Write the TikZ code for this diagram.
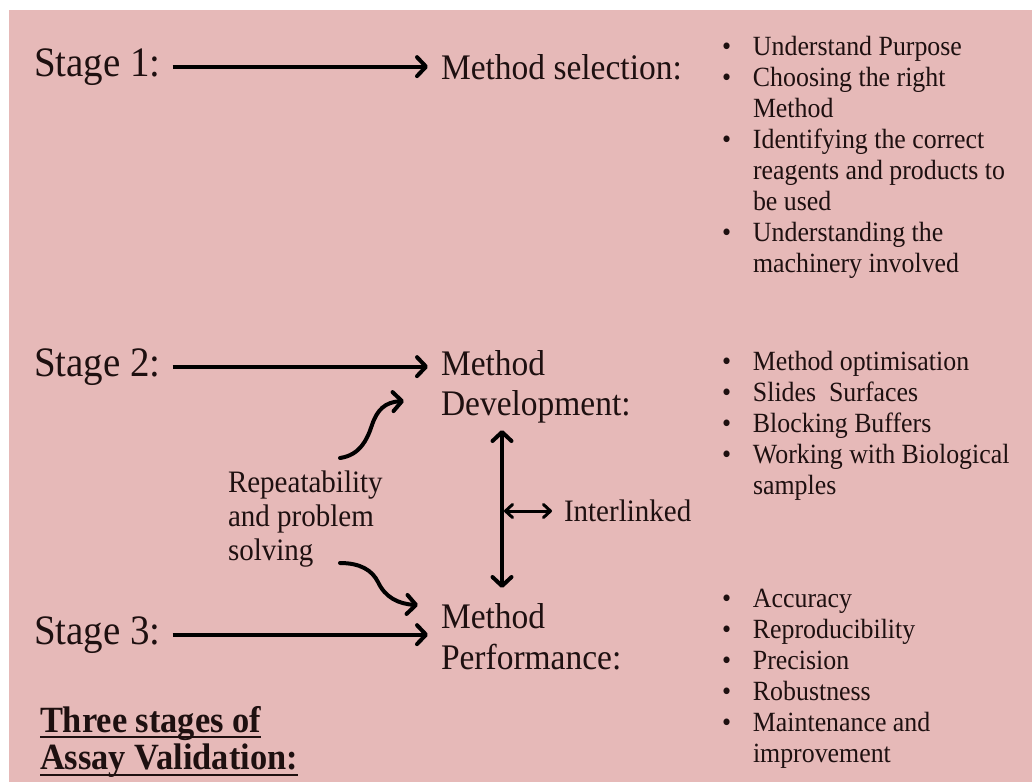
\documentclass[tikz,border=0pt]{standalone}
\usepackage{fontspec}
\setmainfont{Liberation Serif}[FakeStretch=0.93]
\usetikzlibrary{arrows.meta}
\definecolor{bg}{HTML}{E6B9B8}
\definecolor{ink}{HTML}{1E1010}
\newcommand\bul{\makebox[31pt][l]{\textbullet}}
\newcommand\nob{\hspace*{31pt}}
\begin{document}
\begin{tikzpicture}[x=1pt,y=-1pt,
  every node/.style={inner sep=0pt, outer sep=0pt, text=ink},
  stagelbl/.style={font=\fontsize{41.9}{46}\selectfont, anchor=base west},
  methlbl/.style={font=\fontsize{36}{40}\selectfont, anchor=base west},
  listbox/.style={font=\fontsize{27.8}{31}\selectfont, anchor=base west},
  midtxt/.style={font=\fontsize{31.2}{34}\selectfont, anchor=base west},
  titletxt/.style={font=\bfseries\fontsize{37}{40}\selectfont, anchor=base west},
  bigarr/.style={draw=black, line width=4.2pt, -{Straight Barb[length=9pt,width=19pt,line width=4pt,round]}},
  curvarr/.style={draw=black, line width=4pt, line cap=round, -{Straight Barb[length=9pt,width=19pt,line width=4pt,round]}},
  dblarr/.style={draw=black, line width=4pt, {Straight Barb[length=9pt,width=19pt,line width=4pt,round]}-{Straight Barb[length=9pt,width=19pt,line width=4pt,round]}},
  smallarr/.style={draw=black, line width=3pt, {Straight Barb[length=7pt,width=13pt,line width=3pt,round]}-{Straight Barb[length=7pt,width=13pt,line width=3pt,round]}},
  ulline/.style={draw=ink, line width=2.8pt}
]
\useasboundingbox (0,0) rectangle (1032,782);
\fill[bg] (9,10) rectangle (1032,782);

% stage labels
\node[stagelbl] (s1) at (34,76) {Stage 1:};
\node[stagelbl] (s2) at (34,376) {Stage 2:};
\node[stagelbl] (s3) at (34,644) {Stage 3:};

% method labels
\node[methlbl] (m1) at (441,79) {Method selection:};
\node[methlbl] (m2a) at (441,375) {Method};
\node[methlbl] (m2b) at (441,415) {Development:};
\node[methlbl] (m3a) at (441,628) {Method};
\node[methlbl] (m3b) at (441,669) {Performance:};

% bullet lists
\node[listbox] (l1) at (722,55) {\begin{tabular}[t]{@{}l@{}}
\bul Understand Purpose\\
\bul Choosing the right\\
\nob Method\\
\bul Identifying the correct\\
\nob reagents and products to\\
\nob be used\\
\bul Understanding the\\
\nob machinery involved
\end{tabular}};
\node[listbox] (l2) at (722,370) {\begin{tabular}[t]{@{}l@{}}
\bul Method optimisation\\
\bul Slides\ \ Surfaces\\
\bul Blocking Buffers\\
\bul Working with Biological\\
\nob samples
\end{tabular}};
\node[listbox] (l3) at (722,607) {\begin{tabular}[t]{@{}l@{}}
\bul Accuracy\\
\bul Reproducibility\\
\bul Precision\\
\bul Robustness\\
\bul Maintenance and\\
\nob improvement
\end{tabular}};

% middle texts
\node[midtxt] (rep) at (228,492) {\begin{tabular}[t]{@{}l@{}}
Repeatability\\ and problem\\ solving
\end{tabular}};
\node[midtxt, anchor=west] (il) at (564,511) {Interlinked};

% title
\node[titletxt] (t1) at (40,732) {Three stages of};
\node[titletxt] (t2) at (40,769) {Assay Validation:};
\draw[ulline] ([yshift=-5pt]t1.base west) -- ([yshift=-5pt]t1.base east);
\draw[ulline] ([yshift=-6pt]t2.base west) -- ([yshift=-6pt]t2.base east);

% stage arrows
\draw[bigarr, shorten <=12pt, shorten >=13pt] (s1.east) -- (s1.east -| m1.west);
\draw[bigarr, shorten <=12pt, shorten >=13pt] (s2.east) -- (s2.east -| m2a.west);
\draw[bigarr, shorten <=12pt, shorten >=13pt] (s3.east) -- (s3.east -| m3a.west);

% curved arrows
\coordinate (c1s) at (340,458);
\coordinate (c1e) at (404,401);
\coordinate (c2s) at (340,563);
\coordinate (c2e) at (418,605);
\draw[curvarr] (c1s) .. controls (360,455) and (367,440) .. (372,425)
  .. controls (377,410) and (385,402) .. (c1e);
\draw[curvarr] (c2s) .. controls (360,563) and (372,570) .. (378,582)
  .. controls (385,597) and (398,604) .. (c2e);

% interlinked arrows
\coordinate (v1) at (502,430);
\coordinate (v2) at (502,588);
\coordinate (vm) at (504,511);
\draw[dblarr] (v1) -- (v2);
\draw[smallarr, shorten >=12pt] (vm) -- (il.west);
\end{tikzpicture}
\end{document}
